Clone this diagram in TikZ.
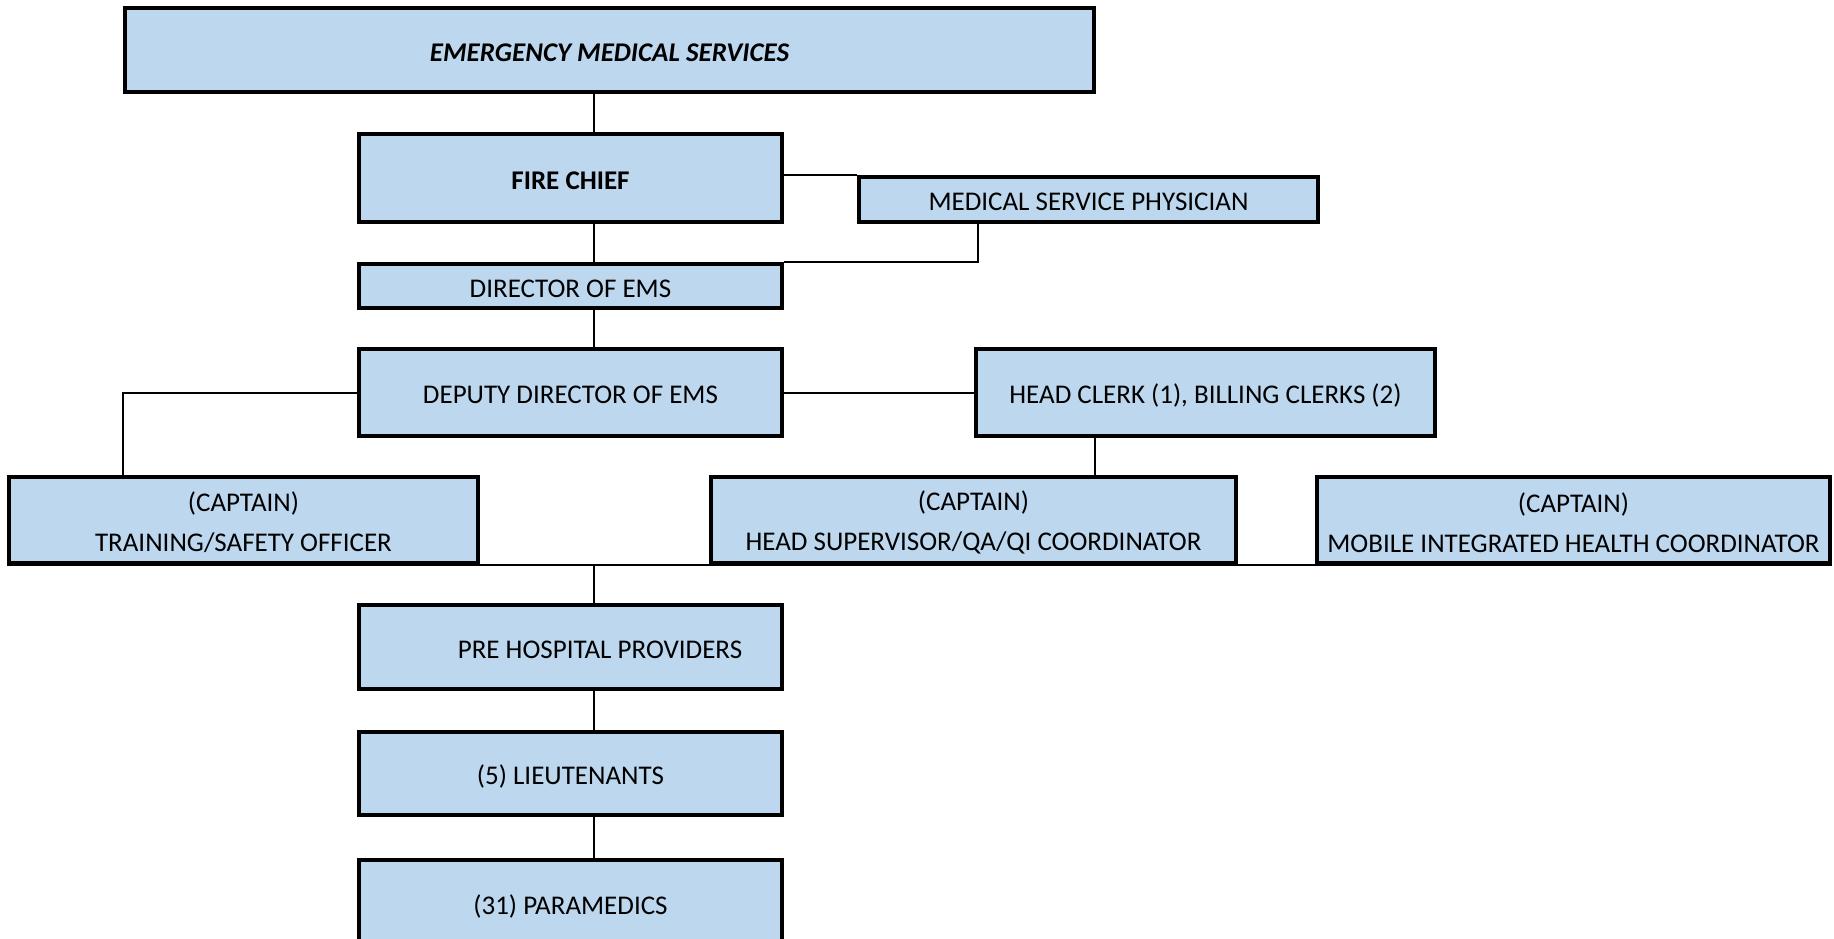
\documentclass[tikz,border=0pt]{standalone}
\usepackage{fontspec}
\setmainfont{Carlito}
\usetikzlibrary{backgrounds}
\definecolor{boxblue}{HTML}{BDD7EE}
\newcommand{\toplift}{\rule{0pt}{25pt}}
\tikzset{
  x=1pt,y=-1pt,
  orgbox/.style={draw=black,line width=3.5pt,fill=boxblue,inner sep=0pt,align=center,
    font=\fontsize{27}{40}\selectfont},
  onebox/.style={orgbox,text height=22pt,text depth=0pt},
  link/.style={draw=black,line width=2pt}
}
\begin{document}
\begin{tikzpicture}
\useasboundingbox (0,0) rectangle (1834,938);
\node[onebox,minimum width=969pt,minimum height=84pt,font=\fontsize{27}{30}\selectfont\bfseries\itshape,text height=23pt] (ems) at (609.5,50) {EMERGENCY MEDICAL SERVICES};
\node[onebox,minimum width=423pt,minimum height=88pt,font=\fontsize{27}{30}\selectfont\bfseries] (chief) at (570.5,178) {FIRE CHIEF};
\node[onebox,minimum width=459pt,minimum height=45pt] (msp) at (1088.5,199.5) {MEDICAL SERVICE PHYSICIAN};
\node[onebox,minimum width=423pt,minimum height=44pt] (dir) at (570.5,286) {DIRECTOR OF EMS};
\node[onebox,minimum width=423pt,minimum height=87pt] (dep) at (570.5,392.5) {DEPUTY DIRECTOR OF EMS};
\node[onebox,minimum width=459pt,minimum height=87pt] (clerk) at (1205.5,392.5) {HEAD CLERK (1), BILLING CLERKS (2)};
\node[orgbox,minimum width=469pt,minimum height=86pt] (train) at (243.5,520) {\toplift(CAPTAIN)\\TRAINING/SAFETY OFFICER};
\node[orgbox,minimum width=525pt,minimum height=86pt] (sup) at (973.5,520) {\toplift(CAPTAIN)\\HEAD SUPERVISOR/QA/QI COORDINATOR};
\node[orgbox,minimum width=513pt,minimum height=86pt] (mob) at (1573.5,520) {\toplift(CAPTAIN)\\MOBILE INTEGRATED HEALTH COORDINATOR};
\node[onebox,minimum width=423pt,minimum height=84pt] (php) at (570.5,647) {\hspace*{59pt}PRE HOSPITAL PROVIDERS};
\node[onebox,minimum width=423pt,minimum height=83pt] (lt) at (570.5,773.5) {(5) LIEUTENANTS};
\node[onebox,minimum width=423pt,minimum height=86pt] (para) at (570.5,903) {(31) PARAMEDICS};
\begin{scope}[on background layer]
\coordinate (trunkA) at (594,0);
\draw[link] (ems.south -| trunkA) -- (chief.north -| trunkA);
\draw[link] (chief.south -| trunkA) -- (dir.north -| trunkA);
\draw[link] (dir.south -| trunkA) -- (dep.north -| trunkA);
\draw[link] (chief.east |- msp.north) -- (msp.north west);
\coordinate (mspdrop) at (978,0);
\draw[link] (msp.south -| mspdrop) |- (dir.north east);
\draw[link] (dep.east) -- (clerk.west);
\draw[link] (dep.west) -| (train.north -| ems.west);
\coordinate (clerkdrop) at (1095,0);
\draw[link] (clerk.south -| clerkdrop) -- (sup.north -| clerkdrop);
\draw[link] (train.south west) -- (mob.south east);
\draw[link] (train.south -| trunkA) -- (php.north -| trunkA);
\draw[link] (php.south -| trunkA) -- (lt.north -| trunkA);
\draw[link] (lt.south -| trunkA) -- (para.north -| trunkA);
\end{scope}
\end{tikzpicture}
\end{document}
